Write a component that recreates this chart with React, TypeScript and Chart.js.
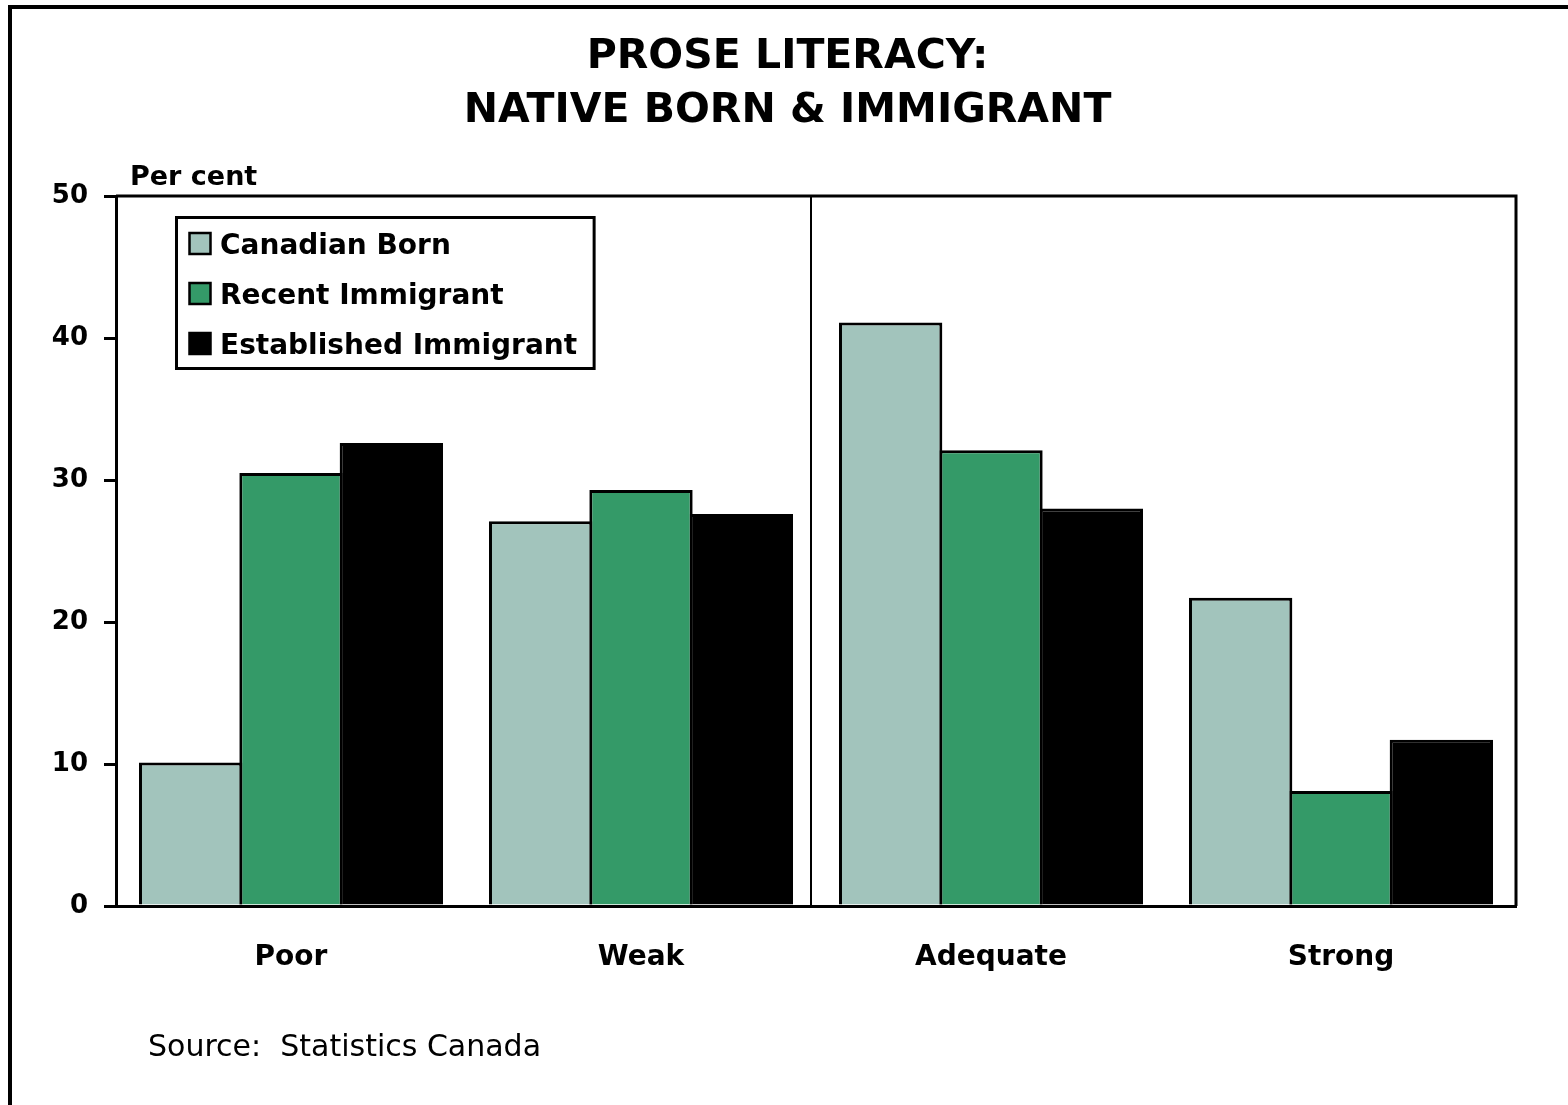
import React, { useEffect, useRef } from "react";
import { Chart, registerables } from "chart.js";

Chart.register(...registerables);

// ---- data ----
const titleLines = ["PROSE LITERACY:", "NATIVE BORN & IMMIGRANT"];
const unitLabel = "Per cent";
const sourceText = "Source:  Statistics Canada";
const categories = ["Poor", "Weak", "Adequate", "Strong"];
const seriesNames = ["Canadian Born", "Recent Immigrant", "Established Immigrant"];
const canadianBorn = [10.1, 27.1, 41.1, 21.7];
const recentImmigrant = [30.5, 29.3, 32.1, 8.1];
const establishedImmigrant = [32.6, 27.6, 28.0, 11.7];
const seriesColors = ["#A2C4BC", "#349A68", "#000000"];
const yTicks = [0, 10, 20, 30, 40, 50];

const FONT = "'DejaVu Sans', 'Liberation Sans', Arial, sans-serif";

const decorPlugin = {
  id: "decor",
  afterDatasetsDraw(chart: any) {
    const { ctx, chartArea: a, scales } = chart;
    ctx.save();
    // divider between Weak and Adequate
    const dx = Math.round(scales.x.getPixelForValue(1.485));
    ctx.strokeStyle = "#000";
    ctx.lineWidth = 2;
    ctx.beginPath();
    ctx.moveTo(dx, a.top);
    ctx.lineTo(dx, a.bottom);
    ctx.stroke();
    // plot frame top and right
    ctx.lineWidth = 3;
    ctx.beginPath();
    ctx.moveTo(a.left, a.top);
    ctx.lineTo(a.right, a.top);
    ctx.lineTo(a.right, a.bottom);
    ctx.stroke();
    ctx.restore();
  },
  afterDraw(chart: any) {
    const { ctx, chartArea: a } = chart;
    ctx.save();
    ctx.fillStyle = "#000";
    ctx.textBaseline = "alphabetic";

    // title
    ctx.font = `bold 41px ${FONT}`;
    ctx.textAlign = "center";
    const cx = chart.width / 2 + 3.5;
    ctx.fillText(titleLines[0], cx, 68);
    ctx.fillText(titleLines[1], cx, 122);

    // unit label
    ctx.textAlign = "left";
    ctx.font = `bold 27px ${FONT}`;
    ctx.fillText(unitLabel, a.left + 14, a.top - 11);

    // source
    ctx.font = `30px ${FONT}`;
    ctx.fillText(sourceText, 148, 1056);

    // legend
    ctx.font = `bold 28px ${FONT}`;
    const ds = chart.data.datasets;
    const boxL = a.left + 60.5;
    const boxT = a.top + 21.5;
    const textX = a.left + 104;
    let maxW = 0;
    ds.forEach((d: any) => {
      maxW = Math.max(maxW, ctx.measureText(d.label).width);
    });
    const boxR = textX + maxW + 17;
    const boxB = a.top + 172.5;
    ctx.strokeStyle = "#000";
    ctx.lineWidth = 3;
    ctx.fillStyle = "#fff";
    ctx.fillRect(boxL, boxT, boxR - boxL, boxB - boxT);
    ctx.strokeRect(boxL, boxT, boxR - boxL, boxB - boxT);
    ds.forEach((d: any, i: number) => {
      const base = a.top + 58 + i * 50;
      const my = base - 21;
      ctx.fillStyle = d.backgroundColor;
      ctx.fillRect(a.left + 73.5, my, 21, 21);
      ctx.lineWidth = 2.5;
      ctx.strokeStyle = "#000";
      ctx.strokeRect(a.left + 73.5, my, 21, 21);
      ctx.fillStyle = "#000";
      ctx.fillText(d.label, textX, base);
    });
    ctx.restore();
  },
};

export default function App() {
  const ref = useRef<HTMLCanvasElement>(null);

  useEffect(() => {
    const canvas = ref.current!;
    const values = [canadianBorn, recentImmigrant, establishedImmigrant];
    const chart = new Chart(canvas, {
      type: "bar",
      data: {
        labels: categories,
        datasets: seriesNames.map((name, i) => ({
          label: name,
          data: values[i],
          backgroundColor: seriesColors[i],
          borderColor: "#000000",
          borderWidth: 3,
          borderSkipped: "bottom",
          categoryPercentage: 0.86,
          barPercentage: 1.03,
        })),
      },
      plugins: [decorPlugin as any],
      options: {
        animation: false,
        responsive: false,
        devicePixelRatio: 1,
        events: [],
        layout: { padding: { left: 0, right: 52, top: 196, bottom: 99 } },
        plugins: {
          legend: { display: false },
          title: { display: false },
          tooltip: { enabled: false },
        },
        scales: {
          x: {
            z: 1,
            grid: { display: false },
            border: { display: true, color: "#000", width: 3 },
            ticks: {
              color: "#000",
              font: { family: FONT, size: 28, weight: "bold" },
              padding: 27,
              maxRotation: 0,
            },
            afterFit: (s: any) => {
              s.height = 100;
            },
          },
          y: {
            z: 1,
            min: 0,
            max: 50,
            afterBuildTicks: (s: any) => {
              s.ticks = yTicks.map((v) => ({ value: v }));
            },
            ticks: {
              color: "#000",
              font: { family: FONT, size: 26, weight: "bold" },
              padding: 16,
            },
            grid: {
              drawOnChartArea: false,
              drawTicks: true,
              tickLength: 12,
              color: "#000",
              lineWidth: 3,
            },
            border: { display: true, color: "#000", width: 3 },
            afterFit: (s: any) => {
              s.width = 116;
            },
          },
        },
      } as any,
    });
    return () => chart.destroy();
  }, []);

  return (
    <div
      style={{
        position: "fixed",
        left: 0,
        top: 0,
        width: 1568,
        height: 1105,
        overflow: "hidden",
        background: "#fff",
      }}
    >
      <div
        style={{
          position: "absolute",
          left: 8,
          top: 5,
          width: 1700,
          height: 1200,
          borderTop: "4px solid #000",
          borderLeft: "4px solid #000",
        }}
      />
      <canvas
        ref={ref}
        width={1568}
        height={1105}
        style={{ position: "absolute", left: 0, top: 0 }}
      />
    </div>
  );
}
